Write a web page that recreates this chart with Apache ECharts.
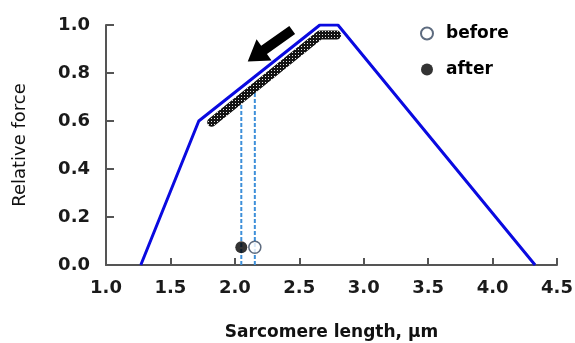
<!DOCTYPE html>
<html><head><meta charset="utf-8">
<script src="https://cdn.jsdelivr.net/npm/echarts@6/dist/echarts.min.js"></script>
<style>html,body{margin:0;padding:0;background:#fff}#c{width:575px;height:343px}</style>
</head><body><div id="c"></div>
<script>
// ---- data ----
const curveX = [1.27, 1.72, 2.66, 2.80, 4.33];
const curveY = [0, 0.6, 1.0, 1.0, 0];
const bandX = [1.82, 2.66, 2.79];
const bandY = [0.595, 0.958, 0.958];
const beforeX = 2.155, afterX = 2.05, pointY = 0.074;
const dashTopBefore = 0.738, dashTopAfter = 0.694;
const arrowTail = [2.445, 0.979];
const arrowTip = [2.10, 0.848];
const xTicks = [1.0, 1.5, 2.0, 2.5, 3.0, 3.5, 4.0, 4.5];
const yTicks = [0.0, 0.2, 0.4, 0.6, 0.8, 1.0];

const FONT = 'DejaVu Sans';
const zip = (a, b) => a.map((v, i) => [v, b[i]]);

// dotted pattern for the band
const pc = document.createElement('canvas');
pc.width = 3; pc.height = 3;
const g = pc.getContext('2d');
g.fillStyle = '#141414'; g.fillRect(0, 0, 3, 3);
g.fillStyle = '#e8e8e8'; g.fillRect(1, 1, 1, 1);

const chart = echarts.init(document.getElementById('c'), null, {renderer: 'canvas'});
chart.setOption({
  animation: false,
  grid: {left: 106, right: 18, top: 25, bottom: 78, containLabel: false, outerBoundsMode: 'none'},
  legend: {
    orient: 'vertical', left: 415, top: 20, itemWidth: 12, itemHeight: 12, itemGap: 19,
    data: ['before', 'after'],
    textStyle: {fontFamily: FONT, fontWeight: 'bold', fontSize: 17, color: '#000', padding: [0, 0, 0, 8]}
  },
  xAxis: {
    type: 'value', min: xTicks[0], max: xTicks[xTicks.length - 1], interval: 0.5,
    name: 'Sarcomere length, µm', nameLocation: 'middle', nameGap: 59,
    nameTextStyle: {fontFamily: FONT, fontWeight: 'bold', fontSize: 17, color: '#111'},
    axisLine: {lineStyle: {color: '#555', width: 2}},
    axisTick: {inside: true, length: 7, lineStyle: {color: '#555', width: 2}},
    axisLabel: {margin: 14, fontFamily: FONT, fontWeight: 'bold', fontSize: 18, color: '#1a1a1a',
      formatter: v => v.toFixed(1)},
    splitLine: {show: false}
  },
  yAxis: {
    type: 'value', min: yTicks[0], max: yTicks[yTicks.length - 1], interval: 0.2,
    name: 'Relative force', nameLocation: 'middle', nameGap: 77, nameRotate: 90,
    nameTextStyle: {fontFamily: FONT, fontSize: 18, color: '#111'},
    axisLine: {show: true, lineStyle: {color: '#555', width: 2}},
    axisTick: {show: true, inside: true, length: 8, lineStyle: {color: '#555', width: 2}},
    axisLabel: {margin: 16, fontFamily: FONT, fontWeight: 'bold', fontSize: 18, color: '#1a1a1a',
      formatter: v => v.toFixed(1)},
    splitLine: {show: false}
  },
  series: [
    {type: 'line', name: 'dashA', data: [[afterX, 0], [afterX, dashTopAfter]], symbol: 'none', z: 2,
      lineStyle: {color: '#3d8fd9', width: 2, type: [4, 2]}},
    {type: 'line', name: 'dashB', data: [[beforeX, 0], [beforeX, dashTopBefore]], symbol: 'none', z: 2,
      lineStyle: {color: '#3d8fd9', width: 2, type: [4, 2]}},
    {type: 'line', name: 'curve', data: zip(curveX, curveY), symbol: 'none', z: 3,
      lineStyle: {color: '#0a0ae0', width: 3}},
    {type: 'line', name: 'band', data: zip(bandX, bandY), symbol: 'none', z: 4,
      lineStyle: {color: {image: pc, repeat: 'repeat'}, width: 9, cap: 'round', join: 'round'}},
    {type: 'custom', name: 'arrow', z: 5, data: [[arrowTail[0], arrowTail[1], arrowTip[0], arrowTip[1]]],
      renderItem: function (params, api) {
        const a = api.coord([api.value(0), api.value(1)]);
        const b = api.coord([api.value(2), api.value(3)]);
        const dx = b[0] - a[0], dy = b[1] - a[1];
        const L = Math.sqrt(dx * dx + dy * dy);
        const ux = dx / L, uy = dy / L, nx = -uy, ny = ux;
        const hl = 20, hw = 13, sw = 5;
        const bx = b[0] - ux * hl, by = b[1] - uy * hl;
        const pts = [
          [a[0] + nx * sw, a[1] + ny * sw],
          [bx + nx * sw, by + ny * sw],
          [bx + nx * hw, by + ny * hw],
          [b[0], b[1]],
          [bx - nx * hw, by - ny * hw],
          [bx - nx * sw, by - ny * sw],
          [a[0] - nx * sw, a[1] - ny * sw]
        ];
        return {type: 'polygon', shape: {points: pts}, style: {fill: '#000'}};
      }},
    {type: 'scatter', name: 'before', data: [[beforeX, pointY]], symbol: 'circle', symbolSize: 12, z: 6,
      itemStyle: {color: '#fff', borderColor: '#34465f', borderWidth: 1.5}},
    {type: 'scatter', name: 'after', data: [[afterX, pointY]], symbol: 'circle', symbolSize: 12, z: 6,
      itemStyle: {color: '#000'}}
  ]
});
</script></body></html>
